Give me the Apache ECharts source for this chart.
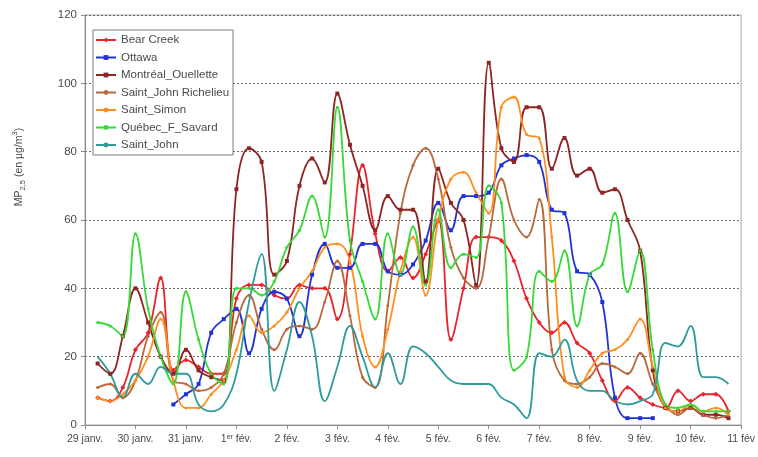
<!DOCTYPE html>
<html>
<head>
<meta charset="utf-8">
<script src="https://cdn.jsdelivr.net/npm/echarts@6/dist/echarts.min.js"></script>
<style>
  html, body { margin: 0; padding: 0; background: #ffffff; }
  #chart { width: 758px; height: 457px; }
</style>
</head>
<body>
<div id="chart"></div>
<script>
// Day labels for the x axis (one tick per day, 29 Jan -> 11 Feb)
const dayLabels = ['29 janv.', '30 janv.', '31 janv.', '1er fév.', '2 fév.', '3 fév.', '4 fév.',
  '5 fév.', '6 fév.', '7 fév.', '8 fév.', '9 fév.', '10 fév.', '11 fév'];

// Readings are 6-hourly; index 0 of each series sits at (start * stepDays) days after 29 Jan 00h
const stepDays = 0.25;

const bearCreekStart = 1;
const bearCreek = [8, 7, 11, 22, 27, 43, 16, 19, 17, 15, 15, 37, 41, 41, 38, 37, 41, 40, 40, 31,
  50, 76, 56, 45, 49, 43, 50, 60, 25, 40, 55, 55, 54, 48, 37, 30, 27, 30, 24, 21,
  13, 7, 11, 8, 6, 5, 10, 7, 9, 9, 4];

const ottawaStart = 7;
const ottawa = [6, 9, 12, 27, 31, 34, 21, 34, 39, 37, 26, 44, 53, 46, 46, 53, 53, 45, 44, 47,
  54, 65, 57, 67, 67, 68, 76, 78, 79, 77, 63, 62, 45, 44, 36, 8, 2, 2, 2];

const montrealStart = 1;
const montreal = [18, 15, 26, 40, 30, 20, 15, 22, 16, 14, 13, 69, 81, 77, 44, 48, 70, 78, 71, 97,
  82, 70, 57, 67, 63, 63, 42, 75, 65, 60, 41, 106, 81, 77, 93, 93, 75, 84, 73, 75,
  68, 69, 60, 51, 16, 5, 4, 5, 3, 3, 2];

const richelieuStart = 1;
const richelieu = [11, 12, 8, 13, 26, 33, 13, 12, 10, 11, 15, 30, 38, 28, 22, 28, 29, 28, 36, 48,
  32, 14, 11, 35, 62, 76, 81, 72, 52, 43, 40, 55, 72, 60, 55, 66, 22, 13, 12, 14,
  18, 17, 15, 21, 12, 6, 3, 5, 3, 2, 3];

const saintSimonStart = 1;
const saintSimon = [8, 7, 9, 13, 20, 31, 13, 5, 5, 9, 13, 22, 32, 27, 29, 33, 40, 45, 52, 53,
  48, 26, 17, 28, 45, 55, 38, 60, 72, 74, 68, 62, 93, 96, 85, 84, 55, 14, 11, 16,
  21, 22, 25, 31, 17, 5, 4, 6, 4, 5, 3];

const quebecStart = 1;
const quebec = [30, 29, 26, 56, 34, 20, 12, 39, 25, 15, 12, 40, 40, 38, 42, 52, 57, 67, 55, 93,
  54, 42, 31, 56, 44, 58, 41, 63, 46, 50, 49, 70, 65, 16, 20, 45, 42, 51, 29, 44,
  47, 62, 39, 51, 22, 6, 5, 6, 4, 4, 4];

const saintJohnStart = 1;
const saintJohn = [20, 15, 8, 15, 12, 17, 15, 15, 6, 4, 6, 15, 36, 50, 10, 22, 36, 26, 7, 17,
  29, 20, 11, 21, 12, 23, 21, 17, 13, 12, 12, 12, 8, 6, 2, 21, 20, 25, 13, 10,
  10, 7, 6, 7, 9, 24, 23, 29, 14, 14, 12];

const yTicks = { min: 0, max: 120, step: 20 };

function toPoints(values, start) {
  return values.map((v, i) => [(start + i) * stepDays, v]);
}

const FONT = '"Liberation Sans", Arial, sans-serif';
const TEXT = '#4a4a4a';

function lineSeries(name, values, start, color, symbol, size) {
  return {
    name: name,
    type: 'line',
    data: toPoints(values, start),
    smooth: 0.4,
    symbol: symbol,
    symbolSize: size,
    showSymbol: symbol !== 'none',
    lineStyle: { color: color, width: 1.8 },
    itemStyle: { color: color, borderWidth: 0 },
    emphasis: { disabled: true },
    clip: true
  };
}

const chart = echarts.init(document.getElementById('chart'), null, { renderer: 'canvas' });

chart.setOption({
  animation: false,
  backgroundColor: '#ffffff',
  grid: {
    left: 85, right: 13, top: 15, bottom: 32,
    show: true, borderColor: '#a8a8a8', borderWidth: 1, backgroundColor: 'transparent'
  },
  xAxis: {
    type: 'value',
    min: 0, max: dayLabels.length - 1, interval: 1,
    axisLine: { show: true, lineStyle: { color: '#8c8c8c', width: 1 } },
    axisTick: { show: true, length: 4, lineStyle: { color: '#8c8c8c' } },
    splitLine: { show: false },
    axisLabel: {
      margin: 9,
      color: TEXT,
      fontFamily: FONT,
      fontSize: 10.5,
      formatter: function (v) {
        const lab = dayLabels[Math.round(v)] || '';
        return lab.replace(/^1er /, '1{sup|er} ');
      },
      rich: {
        sup: { fontSize: 7, lineHeight: 8, verticalAlign: 'top', color: TEXT, fontFamily: FONT }
      }
    }
  },
  yAxis: {
    type: 'value',
    min: yTicks.min, max: yTicks.max, interval: yTicks.step,
    axisLine: { show: true, lineStyle: { color: '#8c8c8c', width: 1 } },
    axisTick: { show: true, length: 4, lineStyle: { color: '#8c8c8c' } },
    axisLabel: { margin: 8, color: TEXT, fontFamily: FONT, fontSize: 11.5 },
    splitLine: { show: true, lineStyle: { color: '#6a6a6a', width: 1, type: [2, 2] } }
  },
  legend: {
    orient: 'vertical',
    left: 93, top: 30,
    backgroundColor: '#ffffff',
    borderColor: '#7a7a7a', borderWidth: 1, borderRadius: 0,
    padding: [3, 4, 3, 2],
    itemGap: 3.5,
    itemWidth: 20, itemHeight: 6,
    itemTextGap: 3,
    textStyle: { color: TEXT, fontFamily: FONT, fontSize: 11.5, lineHeight: 14 },
    data: ['Bear Creek', 'Ottawa', 'Montréal_Ouellette', 'Saint_John Richelieu',
      'Saint_Simon', 'Québec_F_Savard', 'Saint_John']
  },
  graphic: [{
    type: 'text',
    x: 19, y: 167,
    rotation: Math.PI / 2,
    style: {
      text: '{n|MP}{sub|2,5}{n| (en µg/m}{sup|3}{n|)}',
      align: 'center',
      verticalAlign: 'middle',
      fill: TEXT,
      rich: {
        n: { fontSize: 10.5, lineHeight: 16, fontFamily: FONT, fill: TEXT },
        sub: { fontSize: 7.5, lineHeight: 8, verticalAlign: 'bottom', fontFamily: FONT, fill: TEXT },
        sup: { fontSize: 7.5, lineHeight: 8, verticalAlign: 'top', fontFamily: FONT, fill: TEXT }
      }
    }
  }],
  series: [
    lineSeries('Bear Creek', bearCreek, bearCreekStart, '#e8252d', 'diamond', 5),
    lineSeries('Ottawa', ottawa, ottawaStart, '#2233d4', 'rect', 4),
    lineSeries('Montréal_Ouellette', montreal, montrealStart, '#8e2424', 'rect', 4),
    lineSeries('Saint_John Richelieu', richelieu, richelieuStart, '#b86a3c', 'circle', 3),
    lineSeries('Saint_Simon', saintSimon, saintSimonStart, '#ff8f1f', 'circle', 3),
    lineSeries('Québec_F_Savard', quebec, quebecStart, '#36d936', 'circle', 3),
    lineSeries('Saint_John', saintJohn, saintJohnStart, '#2f9b9b', 'none', 0)
  ]
});
</script>
</body>
</html>
